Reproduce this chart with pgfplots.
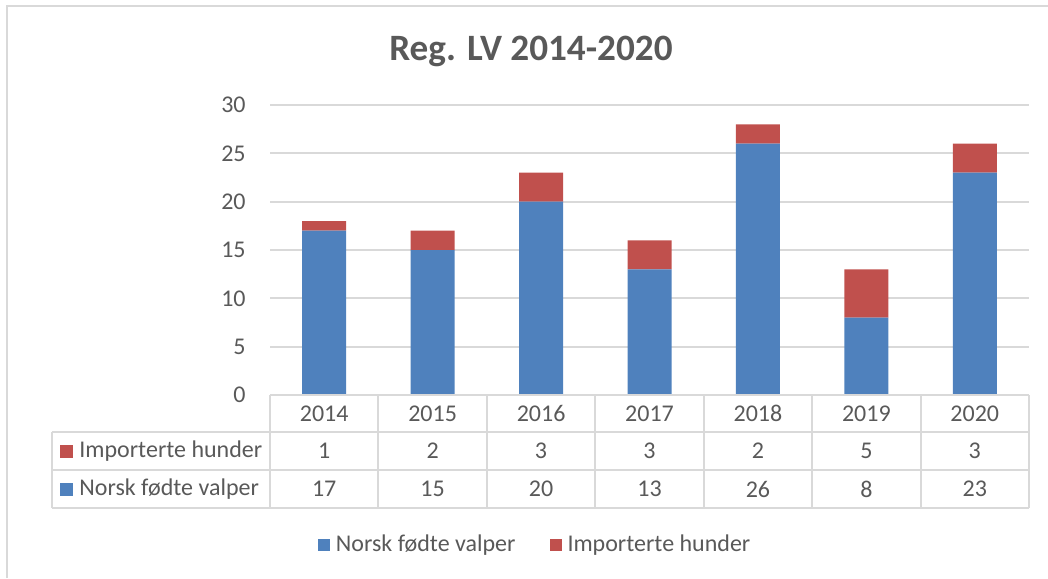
\documentclass[border=0pt]{standalone}
\usepackage{pgfplots}
\pgfplotsset{compat=1.18}
\usepackage{fontspec}
\setmainfont{Carlito}
\definecolor{cblue}{HTML}{4F81BD}
\definecolor{cred}{HTML}{C0504D}
\definecolor{ctext}{HTML}{595959}
\definecolor{cgrid}{HTML}{D9D9D9}
\begin{document}
\begin{tikzpicture}[font=\fontsize{12}{14}\selectfont, every node/.style={text=ctext}]
\useasboundingbox (0,0) rectangle (524pt,-289pt);
\draw[cgrid, line width=1pt] (3.5pt,-289pt) -- (3.5pt,-3pt) -- (524pt,-3pt);
\node[font=\fontsize{18.6}{22}\selectfont\bfseries] at (265.5pt,-25.5pt) {Reg. LV 2014-2020};
\begin{axis}[
  at={(135pt,-197.5pt)}, anchor=south west, scale only axis,
  width=379.5pt, height=145pt,
  ybar stacked, bar width=22pt,
  xmin=-0.5, xmax=6.5, ymin=0, ymax=30, ytick={0,5,...,30},
  xtick=\empty,
  axis line style={draw=none},
  major tick length=0pt,
  ymajorgrids, grid style={cgrid, line width=1pt},
  yticklabel style={anchor=east, inner sep=0pt, xshift=-12pt, text=ctext},
  /pgf/number format/assume math mode=true,
  clip=false,
  legend columns=2,
  legend style={at={(0.352,-0.517)}, anchor=center, draw=none, fill=none,
    inner sep=0pt, nodes={inner sep=3pt, text=ctext},
    /tikz/every even column/.append style={column sep=14pt}},
]
\addplot[fill=cblue, draw=none,
  legend image code/.code={\fill[cblue] (0pt,-3pt) rectangle (6pt,3pt);}]
  coordinates {(0,17) (1,15) (2,20) (3,13) (4,26) (5,8) (6,23)};
\addlegendentry{Norsk fødte valper}
\addplot[fill=cred, draw=none,
  legend image code/.code={\fill[cred] (0pt,-3pt) rectangle (6pt,3pt);}]
  coordinates {(0,1) (1,2) (2,3) (3,3) (4,2) (5,5) (6,3)};
\addlegendentry{Importerte hunder}
\end{axis}
% data table
\begin{scope}[cgrid, line width=1pt]
\draw (135pt,-197.5pt) -- (514.5pt,-197.5pt);
\draw (26pt,-216pt) -- (514.5pt,-216pt);
\draw (26pt,-235pt) -- (514.5pt,-235pt);
\draw (26pt,-254pt) -- (514.5pt,-254pt);
\draw (26pt,-216pt) -- (26pt,-254pt);
\foreach \k in {0,...,7} \draw ({135pt+54.214pt*\k},-197.5pt) -- ({135pt+54.214pt*\k},-254pt);
\end{scope}
\foreach \k/\yr/\a/\b in {0/2014/1/17,1/2015/2/15,2/2016/3/20,3/2017/3/13,4/2018/2/26,5/2019/5/8,6/2020/3/23}{
  \node at ({135pt+54.214pt*(\k+0.5)},-206.75pt) {\yr};
  \node at ({135pt+54.214pt*(\k+0.5)},-225.5pt) {\a};
  \node at ({135pt+54.214pt*(\k+0.5)},-244.5pt) {\b};
}
\fill[cred] (30pt,-222.5pt) rectangle (36.5pt,-229pt);
\node[anchor=west, inner sep=0pt] at (39.5pt,-225.5pt) {Importerte hunder};
\fill[cblue] (30pt,-241.5pt) rectangle (36.5pt,-248pt);
\node[anchor=west, inner sep=0pt] at (39.5pt,-244.5pt) {Norsk fødte valper};
\end{tikzpicture}
\end{document}
